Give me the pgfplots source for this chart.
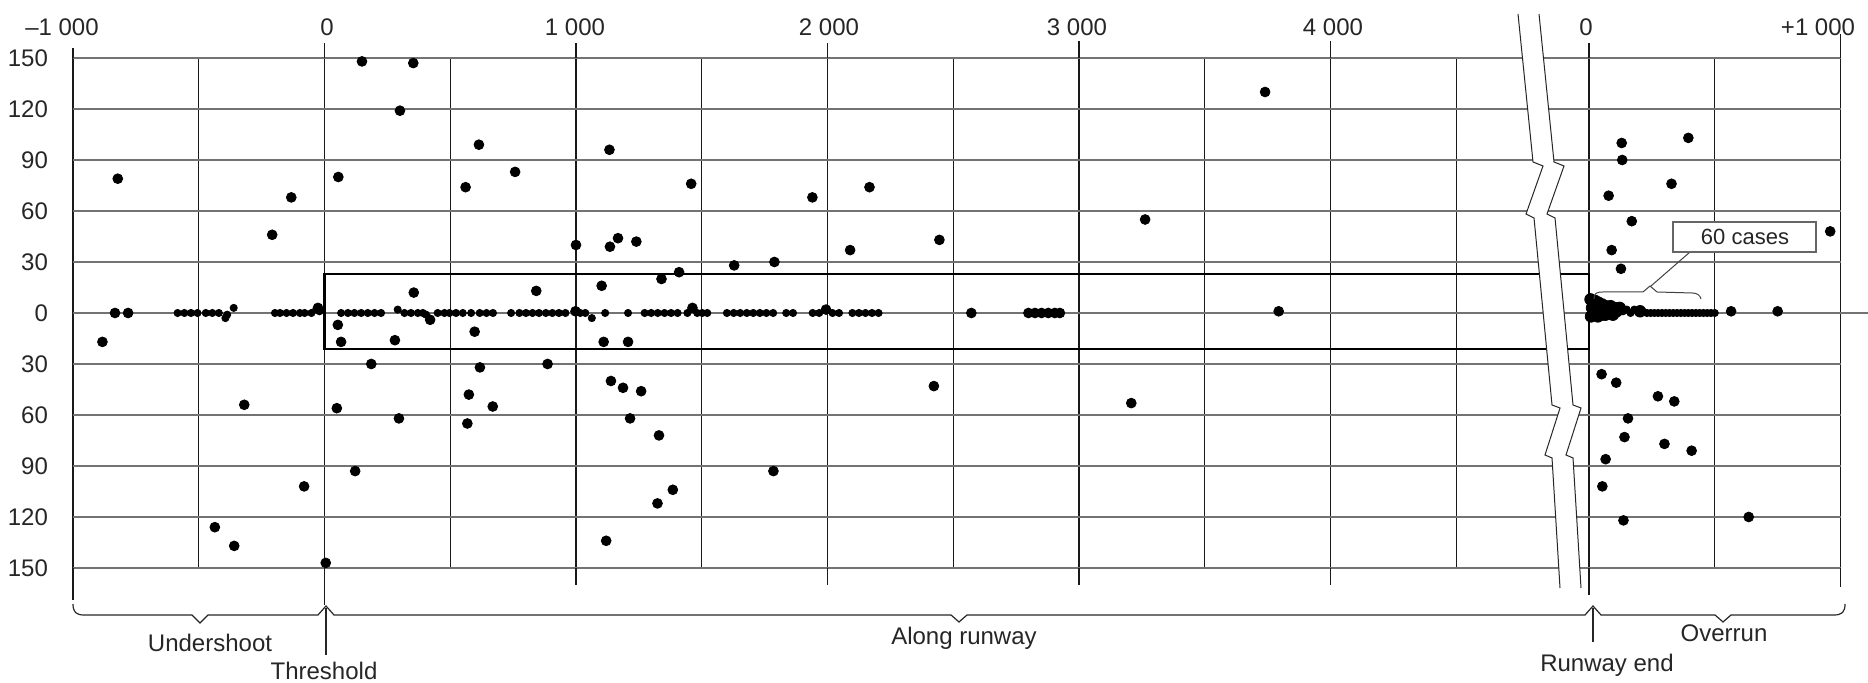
\documentclass[border=0pt]{standalone}
\usepackage{pgfplots}
\pgfplotsset{compat=1.18}
\usepackage{fontspec}
\setmainfont{Liberation Sans}
\begin{document}
\begin{tikzpicture}[font=\fontsize{12}{14}\selectfont]
\path[use as bounding box] (0,0) rectangle (934pt,341.5pt);
\pgfplotsset{
  panel/.style={
    scale only axis, clip=false, anchor=south west,
    ymin=-150, ymax=150, height=255pt,
    axis line style={draw=none}, tick style={draw=none},
    xticklabels={}, yticklabels={},
    ytick={-150,-120,...,150},
    ymajorgrids, xmajorgrids,
    y grid style={black!55, line width=0.6pt},
    x grid style={black!90, line width=0.6pt},
  },
  bigdot/.style={only marks, mark=*, mark size=2.45pt, mark options={fill=black, draw=black}},
  rowdot/.style={only marks, mark=*, mark size=1.8pt, mark options={fill=black, draw=black}},
  blobdot/.style={only marks, mark=*, mark size=2.9pt, mark options={fill=black, draw=black}},
}
% ---------------- left panel: undershoot and along runway ----------------
\begin{axis}[panel, at={(36.5pt,57.5pt)}, width=748.2pt, xmin=-1000, xmax=4950,
  xtick={-1000,-500,...,4500}]
\draw[black!90, line width=0.6pt]
  (axis cs:-1000,150) -- (axis cs:-1000,156) (axis cs:-1000,-150) -- (axis cs:-1000,-169)
  (axis cs:0,150) -- (axis cs:0,159) (axis cs:0,-150) -- (axis cs:0,-172)
  (axis cs:1000,150) -- (axis cs:1000,159) (axis cs:1000,-150) -- (axis cs:1000,-160)
  (axis cs:2000,150) -- (axis cs:2000,159) (axis cs:2000,-150) -- (axis cs:2000,-160)
  (axis cs:3000,150) -- (axis cs:3000,160) (axis cs:3000,-150) -- (axis cs:3000,-160)
  (axis cs:4000,150) -- (axis cs:4000,160) (axis cs:4000,-150) -- (axis cs:4000,-160);
\draw[line width=1.1pt] (axis cs:4950,23) -- (axis cs:0,23) -- (axis cs:0,-21) -- (axis cs:4950,-21);
% scattered incidents
\addplot[bigdot] coordinates {
(-883,-17) (-822,79) (-833,0) (-781,0) (-319,-54) (-436,-126) (-359,-137)
(-208,46) (-132,68) (-81,-102) (5,-147)
(55,80) (149,148) (353,147) (300,119) (614,99) (561,74) (758,83)
(1133,96) (1458,76) (1000,40) (1135,39) (1167,44) (1240,42)
(1102,16) (1340,20) (1410,24) (355,12) (842,13) (420,-4)
(53,-7) (66,-17) (280,-16) (597,-11) (1110,-17) (1207,-17)
(186,-30) (49,-56) (296,-62) (122,-93) (618,-32) (574,-48) (669,-55) (568,-65)
(887,-30) (1139,-40) (1187,-44) (1259,-46) (1215,-62) (1330,-72)
(1385,-104) (1324,-112) (1120,-134)
(1940,68) (2167,74) (3740,130) (3263,55) (2445,43) (2090,37)
(1629,28) (1789,30) (2423,-43) (3208,-53) (1785,-93)
(3794,1) (2572,0) (998,1) (1994,2) (1463,3) (-26,3)
(2799,0) (2825,0) (2851,0) (2878,0) (2904,0) (2924,0)
};
% incidents on the centre line
\addplot[rowdot] coordinates {
(-584,0) (-557,0) (-531,0) (-505,0) (-472,0) (-446,0) (-420,0) (-394,-3) (-387,-1) (-361,3)
(-197,0) (-177,0) (-151,0) (-125,0) (-98,0) (-79,0) (-52,0) (-33,2) (-20,1)
(66,0) (93,0) (119,0) (146,0) (172,0) (199,0) (225,0)
(291,2) (318,0) (344,0) (371,0) (391,0) (404,-1) (450,0) (477,0) (497,0) (523,0) (550,0) (583,0)
(617,0) (644,0) (670,0) (742,0) (775,0) (801,0) (827,0) (853,0) (880,0) (906,0) (932,0) (958,0)
(1017,0) (1037,0) (1063,-3) (1116,0) (1207,0) (1273,0) (1299,0) (1325,0) (1352,0) (1378,0) (1404,0)
(1443,0) (1482,0) (1502,0) (1522,0) (1600,0) (1627,0) (1653,0) (1679,0) (1705,0) (1731,0) (1757,0)
(1784,0) (1836,0) (1863,0) (1941,0) (1967,0) (2020,0) (2046,0) (2099,0) (2125,0) (2151,0) (2177,0) (2203,0)
};
\end{axis}
% ---------------- right panel: overrun ----------------
\begin{axis}[panel, at={(769.35pt,57.5pt)}, width=150.9pt, xmin=-200, xmax=1000,
  xtick={0,500,1000}]
\draw[black!90, line width=0.6pt]
  (axis cs:0,150) -- (axis cs:0,159) (axis cs:0,-150) -- (axis cs:0,-166)
  (axis cs:1000,150) -- (axis cs:1000,164) (axis cs:1000,-150) -- (axis cs:1000,-161);
\draw[black!55, line width=0.6pt] (axis cs:1000,0) -- (axis cs:1120,0);
\draw[line width=1.1pt] (axis cs:-200,23) -- (axis cs:0,23) -- (axis cs:0,-21) -- (axis cs:-200,-21);
\addplot[bigdot] coordinates {
(130,100) (132,90) (395,103) (328,76) (78,69) (170,54) (90,37) (127,26) (959,48)
(50,-36) (108,-41) (274,-49) (339,-52) (155,-62) (141,-73) (300,-77) (408,-81)
(66,-86) (53,-102) (137,-122) (635,-120) (565,1) (750,1)
};
\addplot[blobdot] coordinates {
(6,8) (12,3) (18,5) (25,7) (32,4) (38,6) (45,4) (52,5) (58,3) (66,4) (78,3) (86,4) (100,3)
(122,3) (203,1) (8,-2) (20,-1) (35,-2) (50,-1) (65,-1) (80,0) (95,-1) (110,1)
};
\addplot[rowdot] coordinates {
(10,6) (15,1) (22,2) (28,0) (35,2) (42,1) (48,2) (55,0) (62,1) (70,2) (74,0) (82,1) (90,2) (95,0)
(105,1) (110,2) (135,1) (150,2) (165,0) (180,2)
(230,0) (245,0) (260,0) (275,0) (290,0) (305,0) (320,0) (335,0) (350,0) (365,0)
(380,0) (395,0) (410,0) (425,0) (440,0) (455,0) (470,0) (485,0) (500,0)
};
\end{axis}
% ---------------- annotations in image-pixel coordinates ----------------
\begin{scope}[x=0.5pt, y=-0.5pt, shift={(0pt,341.5pt)}]
% break in the runway
\fill[white] (1518,14) -- (1533,162) -- (1543,166) -- (1526,214) -- (1534,218) -- (1552,405)
  -- (1560,408) -- (1545,455) -- (1552,458) -- (1560,588)
  -- (1581,588) -- (1573,458) -- (1566,455) -- (1581,408) -- (1573,405) -- (1555,218)
  -- (1547,214) -- (1564,166) -- (1554,162) -- (1539,14) -- cycle;
\draw[black!85, line width=0.5pt] (1518,14) -- (1533,162) -- (1543,166) -- (1526,214) -- (1534,218) -- (1552,405)
  -- (1560,408) -- (1545,455) -- (1552,458) -- (1560,588);
\draw[black!85, line width=0.5pt] (1539,14) -- (1554,162) -- (1564,166) -- (1547,214) -- (1555,218) -- (1573,405)
  -- (1581,408) -- (1566,455) -- (1573,458) -- (1581,588);
% top scale labels
\begin{scope}[text=black!85]
\node at (62,27) {–1 000};
\node at (327,27) {0};
\node at (575,27) {1 000};
\node at (829,27) {2 000};
\node at (1077,27) {3 000};
\node at (1333,27) {4 000};
\node at (1586,27) {0};
\node at (1818,27) {+1 000};
% lateral labels
\node[anchor=east] at (55,58) {150};
\node[anchor=east] at (55,109) {120};
\node[anchor=east] at (55,160) {90};
\node[anchor=east] at (55,211) {60};
\node[anchor=east] at (55,262) {30};
\node[anchor=east] at (55,313) {0};
\node[anchor=east] at (55,364) {30};
\node[anchor=east] at (55,415) {60};
\node[anchor=east] at (55,466) {90};
\node[anchor=east] at (55,517) {120};
\node[anchor=east] at (55,568) {150};
% bottom brackets
\draw[black!85, line width=0.6pt] (73,604) .. controls (73,612) and (76,615) .. (84,615)
  -- (192,615) -- (200,623) -- (208,615) -- (318,615) -- (326,606) -- (334,615)
  -- (951,615) -- (959,622) -- (967,615) -- (1585,615) -- (1593,606) -- (1601,615)
  -- (1715,615) -- (1723,622) -- (1731,615) -- (1834,615) .. controls (1842,615) and (1845,612) .. (1845,604);
\draw[black!85, line width=0.6pt] (326,608) -- (326,655);
\draw[black!85, line width=0.6pt] (1593,608) -- (1593,642);
\node at (210,643) {Undershoot};
\node at (324,671) {Threshold};
\node at (964,638) {Along runway};
\node at (1724,633) {Overrun};
\node at (1607,665) {Runway end};
% 60 cases annotation
\draw[black!75, line width=0.5pt] (1594,299) .. controls (1594,293) and (1597,292) .. (1603,292)
  -- (1643,292) -- (1650,286) -- (1657,292) -- (1692,293) .. controls (1697,293) and (1700,295) .. (1701,299);
\draw[black!75, line width=0.5pt] (1651,286) -- (1690,252);
\draw[black!60, line width=0.6pt, fill=white] (1673,222) rectangle (1816,252);
\node[font=\fontsize{11}{13}\selectfont] at (1745,237) {60 cases};
\end{scope}
\end{scope}
\end{tikzpicture}
\end{document}
